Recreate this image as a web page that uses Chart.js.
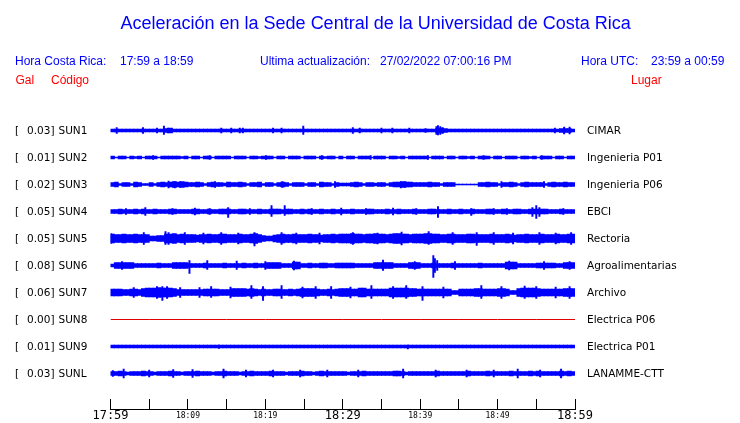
<!DOCTYPE html>
<html><head><meta charset="utf-8">
<script src="https://cdn.jsdelivr.net/npm/chart.js@4/dist/chart.umd.min.js"></script>
<style>
html,body{margin:0;padding:0;width:740px;height:423px;overflow:hidden;background:#fff}
#wrap{position:relative;width:740px;height:423px;overflow:hidden}
#c{position:absolute;left:0;top:0}
.h{position:absolute;white-space:pre;font-family:"Liberation Sans",Arial,sans-serif;font-size:12px;line-height:12px;color:#0000ff}
.r{color:#ff0000}
.title{font-size:18px;line-height:18px}
.l{position:absolute;white-space:pre;font-family:"DejaVu Sans",sans-serif;font-size:10.5px;line-height:10.5px;color:#000}
</style></head>
<body><div id="wrap"><canvas id="c" width="740" height="432"></canvas></div>
<script>
// ---------------- data ----------------
const TITLE = "Aceleración en la Sede Central de la Universidad de Costa Rica";
const HORA_CR = ["Hora Costa Rica:", "17:59 a 18:59"];
const ACTUALIZ = ["Ultima actualización:", "27/02/2022 07:00:16 PM"];
const HORA_UTC = ["Hora UTC:", "23:59 a 00:59"];
const COL_HEADS = ["Gal", "Código", "Lugar"];

const CODES = ["SUN1","SUN2","SUN3","SUN4","SUN5","SUN6","SUN7","SUN8","SUN9","SUNL"];
const PEAKS = ["0.03","0.01","0.02","0.05","0.05","0.08","0.06","0.00","0.01","0.03"];
const PLACES = ["CIMAR","Ingenieria P01","Ingenieria P06","EBCI","Rectoria","Agroalimentarias","Archivo","Electrica P06","Electrica P01","LANAMME-CTT"];

// time axis: minutes after 17:59 (0..60)
const X_TICK_LABELS = ["17:59","18:09","18:19","18:29","18:39","18:49","18:59"];
const SAMPLE_STEP = 0.5; // minutes per envelope sample

// envelope half-amplitudes per 0.5 min (120 samples each)
const SUN1 = [1.5,1.5,1.5,1.5,1.5,1.5,1.5,1.5,1.5,1.5, 1.5,1.5,1.5,1.5,2,2.5,1.5,1.5,1.5,1.5,
  1.5,1.5,1.5,1.5,1.5,1.5,1.5,1.5,1.5,1.5, 1.5,1.5,1.5,1.5,1.5,1.5,1.5,1.5,1.5,1.5,
  1.5,1.5,1.5,1.5,1.5,1.5,1.5,1.5,1.5,1.5, 1.5,1.5,1.5,1.5,1.5,1.5,1.5,1.5,1.5,1.5,
  1.5,1.5,1.5,1.5,1.5,1.5,1.5,1.5,1.5,1.5, 1.5,1.5,1.5,1.5,1.5,1.5,1.5,1.5,1.5,1.5,
  1.5,1.5,1.5,1.5,2,2.5,2,1.5,1.5,1.5, 1.5,1.5,1.5,1.5,1.5,1.5,1.5,1.5,1.5,1.5,
  1.5,1.5,1.5,1.5,1.5,1.5,1.5,1.5,1.5,1.5, 1.5,1.5,1.5,1.5,1.5,1.5,2,2,2,1.5];
const SUN2 = [1.5,0.5,1.5,1.5,0.5,1.5,1,1.5,0.5,1.5, 1.5,1.5,0.5,1.5,1.5,1.5,1.5,1.5,1,1.5,
  0.5,1.5,1.5,0.5,1.5,1.5,0.5,1.5,1.5,1.5, 1.5,0.5,1.5,1.5,1.5,0.5,1.5,1.5,1,1.5,
  1.5,1.5,0.5,1.5,1.5,0.5,1.5,1.5,1.5,0.5, 1.5,1.5,1.5,0.5,1.5,1,1.5,1.5,0.5,1.5,
  0.5,1.5,1.5,0.5,1.5,1.5,1.5,0.5,1.5,1.5, 1.5,0.5,1.5,1.5,1,1.5,0.5,1.5,1.5,1.5,
  1.5,1.5,0.5,1.5,1.5,1.5,0.5,1.5,1.5,0.5, 1.5,1.5,1,1.5,0.5,1.5,1.5,1.5,0.5,1.5,
  1.5,0.5,1.5,1.5,1.5,0.5,1.5,1.5,1,1.5, 0.5,1.5,1.5,1.5,0.5,1.5,1.5,0.5,1.5,1.5];
const SUN3 = [2,2.5,1,2,2,1,2.5,2,1,1, 2,1,2,2.5,2,2.5,3,2.5,3,2.5,
  2,2,2.5,2,1,2,2.5,2,2,1.5, 2.5,2,2,2.5,2,1,2,2,2.5,1,
  2,2,1,2,2.5,2,1,2,2,2, 1,2,2,1,2.5,2,2,1,2,1.5,
  1.5,1.5,2,2.5,2,1,2,2,1.5,2, 2,1,2,2.5,2.5,3,2.5,2.5,2,2,
  2,2,2.5,2,2,1,2,2,2,0.5, 0.5,0.5,0.5,0.5,0.5,2,2,2.5,2,2,
  1,2,2,2.5,2,1,2,2.5,2,2, 2,2,1,2,2.5,2,2,2.5,2,2];
const SUN4 = [2,2,2.5,2,2,2,2.5,2,2.5,2, 2,2.5,2,2,2,2.5,2.5,2,2,2,
  2,2.5,2.5,2,2,2.5,2,2,2.5,2.5, 2.5,2,2,2.5,2.5,2,2,2,2.5,2,
  2,2.5,2.5,2.5,2,2.5,2.5,2,2,2.5, 2,2.5,2,2,2.5,2,2,2.5,2,2,
  2,2,2.5,2,2,2,2.5,2.5,2,2, 2,2.5,2,2,2.5,2,2,2,2.5,2,
  2,2,2.5,2.5,2,2,2,2.5,2,2, 2.5,2,2,2.5,2,2,2,2.5,2.5,2,
  2,2.5,2,2,2.5,2.5,2,2,2.5,2.5, 2.5,2.5,2.5,2,2,2,2.5,2,2,2];
const SUN5 = [4.5,4,4,4.5,4,4,4.5,4,4,4, 2.5,2.5,3,3,4.5,4.5,5,4,4.5,4,
  4,4,3.5,4,4,4.5,4,4,4.5,4.5, 4,4,4,4.5,4,4,4.5,5,4,3,
  2.5,2.5,3.5,4,4.5,4,4,4.5,4,4, 4,4.5,4,4,3.5,4,4,4.5,4,4.5,
  4.5,4.5,5,4.5,4.5,4,4.5,4.5,5,4.5, 4.5,4,4.5,5,5,4.5,4.5,4,4.5,4.5,
  4.5,5,5,4.5,4.5,4,4,4.5,4.5,4, 4,4,4.5,4.5,4,4,4,4,4.5,4,
  4,4,4.5,4,3.5,4,4,4.5,4,4, 4,4.5,4,4,4,4.5,4,4,4.5,4.5];
const SUN6 = [1.5,3,3,3,3,3,2,2,2,2, 2,2,2.5,2,2,2,3,3,3,3,
  2,2,2,2,2.5,2,2,2,2,2.5, 2,2,2,2,2.5,2,2,2.5,2,2,
  3,3,3,3,2,2,2,3.5,3.5,2, 2,2.5,2,2,2.5,2.5,2,2,2.5,2.5,
  2.5,2.5,2.5,2,2,2,2,2,3,3, 3,3,3,2,2,2,2,3,3,3,
  2,2,2,2.5,2,2,2,2,2.5,2, 2,2,2,2,2,2.5,2,2,2,2,
  2,2,3.5,3.5,3.5,2,2,2,2,2, 2.5,2.5,2.5,2.5,2.5,2,2,3,3,3];
const SUN7 = [3.5,3.5,3.5,3,3,3.5,3.5,3,4,4.5, 4.5,4.5,5,4.5,4.5,4.5,4,3,3,3,
  3,3,3,3,3.5,3.5,3.5,3.5,3,3, 3,4,4,4,4,3.5,4,3.5,3,3.5,
  3,3,3.5,3.5,3,3,3.5,3,3.5,4, 4,4,4,3.5,3,3,3.5,3,3.5,4,
  4,4,3.5,3.5,4.5,4.5,3.5,3.5,3.5,3.5, 3.5,3.5,4.5,4.5,4.5,4.5,4.5,4,4,3.5,
  3.5,3.5,3.5,3.5,3.5,3.5,3.5,3.5,2,2, 3.5,3.5,3.5,3.5,4,4,3.5,3.5,3.5,3.5,
  4,4,3.5,2,2,4,4.5,4.5,4.5,4.5, 4,3.5,3.5,3.5,3.5,3.5,3.5,4,4,4];
const SUN8 = [0,0,0,0,0,0,0,0,0,0,0,0,0]; // flat record, one value per 5 min
const SUN9 = [1.5,1.5,1.5,1.5,1.5,1.5,1.5,1.5,1.5,1.5, 1.5,1.5,1.5,1.5,1.5,1.5,1.5,1.5,1.5,1.5,
  1.5,1.5,1.5,1.5,1.5,1.5,1.5,1.5,1.5,1.5, 1.5,1.5,1.5,1.5,1.5,1.5,1.5,1.5,1.5,1.5,
  1.5,1.5,1.5,1.5,1.5,1.5,1.5,1.5,1.5,1.5, 1.5,1.5,1.5,1.5,1.5,1.5,1.5,1.5,1.5,1.5,
  1.5,1.5,1.5,1.5,1.5,1.5,1.5,1.5,1.5,1.5, 1.5,1.5,1.5,1.5,1.5,1.5,1.5,1.5,1.5,1.5,
  1.5,1.5,1.5,1.5,1.5,1.5,1.5,1.5,1.5,1.5, 1.5,1.5,1.5,1.5,1.5,1.5,1.5,1.5,1.5,1.5,
  1.5,1.5,1.5,1.5,1.5,1.5,1.5,1.5,1.5,1.5, 1.5,1.5,1.5,1.5,1.5,1.5,1.5,1.5,1.5,1.5];
const SUNL = [2,2,2.5,2,1.5,2,2,2,2.5,2, 2,1.5,2,2,2,2.5,2,2,1.5,2,
  2,2,2.5,2,2,2,1.5,2,2,2.5, 2,2,2,1.5,2,2,2.5,2,2,2,
  2,2.5,2,2,2,1.5,2,2,2,2.5, 2,2,1.5,2,2.5,2,2,2,2,2,
  2,1.5,2,2,2,2.5,2,2,2,2, 2,2,2,2.5,2.5,2,1.5,2,2,2,
  2,2,2,2,2.5,2,2,2,2,2, 2,2,2.5,2,2,2,2,2.5,2,2,
  2,2,2,2.5,2,2,2,2,2.5,2, 2.5,2,2,2,2,2,2.5,2,2.5,2];

// isolated needles: [minute, up, down]
const SUN1_SPIKES = [[0.8,3,3],[4.2,3,3],[6.0,2.5,2.5],[6.9,4.5,4],[7.4,2.5,2.5],[14.3,2.5,2.5],[15.6,2.5,2.5],[16.7,2.5,2.5],[17.1,2.5,2.5],[21.0,2.5,2.5],[22.1,2.5,2.5],[24.9,4.5,4],[31.3,3,3],[32.2,2.5,2.5],[35.0,2.5,2.5],[36.4,2.5,2.5],[38.6,2.5,2.5],[40.7,2,2],[42.1,4,4],[42.3,5,4.5],[42.6,4,4],[42.9,3,3],[57.4,2.5,2.5],[58.6,3.5,3.5],[59.3,3.5,3.5]];
const SUN2_SPIKES = [[5.5,2,2],[12.8,2,2],[20.1,2,2],[27.3,2,2],[33.6,2,2],[41.0,2,2],[48.2,2,2],[55.7,2,2]];
const SUN3_SPIKES = [[7.5,3.5,3.5],[8.3,3,3.5],[9.0,3,3],[13.5,3,3],[22.2,3,3],[29.0,3,3],[37.5,3,3.5],[38.1,3,3],[50.5,3,3],[56.0,3,3]];
const SUN4_SPIKES = [[2.0,3,3],[4.5,4,4],[8.0,3,3],[10.9,3.5,3.5],[12.8,3,3],[15.2,4,6],[18.0,3,3],[20.8,6,5],[22.5,6,4],[26.0,3,3],[29.8,3.5,3.5],[33.0,3,3],[36.5,3.5,3.5],[39.5,3,3],[42.3,5,6],[46.6,3,4],[49.5,3,3],[51.2,3,3],[54.5,4,5],[55.0,6,7],[55.4,4,5],[58.5,3,3]];
const SUN5_SPIKES = [[0.1,5,5],[4.3,6,6],[7.1,7,6],[7.5,6,6],[9.6,6,6],[12.0,5.5,5.5],[14.3,6,6],[16.5,5.5,5.5],[18.6,6,7.5],[22.1,6,6],[24.0,5.5,5.5],[27.0,5.5,5.5],[31.3,6,6],[34.5,5.5,5.5],[37.6,6.5,6.5],[41.1,7,6],[44.2,6,6],[47.3,6,7],[49.5,6,6],[52.0,5.5,5.5],[55.4,6,6],[57.5,5.5,5.5],[59.5,6,6]];
const SUN6_SPIKES = [[1.5,4,4],[10.2,5,8],[12.5,5,4],[16.3,4.5,4],[20.0,4,4],[23.7,4.5,4.5],[35.2,5.5,5],[39.3,4,4],[41.7,10,12],[41.9,7,7],[42.2,5,5],[44.5,4,4],[51.5,4.5,4.5],[56.0,4,4],[59.3,4,4]];
const SUN7_SPIKES = [[3.0,5,5],[6.0,6,6],[6.7,6,8],[7.3,6,6],[9.0,5,5],[11.5,5,5],[13.0,6,5],[15.5,5.5,5.5],[18.2,7,6],[19.7,6,8],[22.1,7,6],[24.8,5.5,5.5],[26.5,6,6],[28.5,6,6],[31.0,5.5,5.5],[33.7,7,6],[36.5,6,6],[38.2,7,6],[40.3,6,8],[43.0,5.5,5.5],[47.9,7,6],[50.5,6,6],[53.5,6.5,6],[55.0,6,6],[57.5,5.5,5.5],[59.3,6,6]];
const SUN9_SPIKES = [[14.0,1.5,2],[38.4,1.5,2.5]];
const SUNL_SPIKES = [[0.3,3,3],[1.7,4.5,4.5],[5.0,3.5,3.5],[8.1,4,4],[10.6,4,4],[14.6,4.5,4.5],[17.5,3.5,3.5],[21.0,3.5,3.5],[24.5,3.5,3.5],[28.0,3.5,3.5],[32.0,3.5,3.5],[37.8,4.5,4.5],[42.0,3.5,3.5],[46.0,3.5,3.5],[49.5,3.5,3.5],[52.6,4.5,4.5],[55.5,3.5,3.5],[58.2,4.5,4.5]];

// ---------------- text ----------------
const wrap = document.getElementById('wrap');
function addText(cls, txt, left, top, extra) {
  const d = document.createElement('div');
  d.className = cls; d.textContent = txt;
  d.style.left = left + 'px'; d.style.top = top + 'px';
  if (extra) Object.assign(d.style, extra);
  wrap.appendChild(d);
}
addText('h title', TITLE, 120.5, 14.3);
addText('h', HORA_CR[0], 15, 55); addText('h', HORA_CR[1], 120, 55);
addText('h', ACTUALIZ[0], 260, 55); addText('h', ACTUALIZ[1], 380, 55);
addText('h', HORA_UTC[0], 581, 55); addText('h', HORA_UTC[1], 651, 55);
addText('h r', COL_HEADS[0], 15.5, 74.3); addText('h r', COL_HEADS[1], 51, 74.3); addText('h r', COL_HEADS[2], 631, 74.3);
CODES.forEach((code, r) => {
  const top = 125.45 + 27 * r;
  addText('l', '[', 15, top);
  addText('l', PEAKS[r] + ']', 0, top, {left: 'auto', right: (740 - 54.5) + 'px', textAlign: 'right'});
  addText('l', code, 58.5, top);
  addText('l', PLACES[r], 587, top);
});

// ---------------- chart ----------------
const ENVS = [SUN1, SUN2, SUN3, SUN4, SUN5, SUN6, SUN7, SUN8, SUN9, SUNL];
const SPIKES = [SUN1_SPIKES, SUN2_SPIKES, SUN3_SPIKES, SUN4_SPIKES, SUN5_SPIKES, SUN6_SPIKES, SUN7_SPIKES, [], SUN9_SPIKES, SUNL_SPIKES];
const ROW_PX = 27;          // amplitude units per row spacing
const BLUE = '#0000ff';
const datasets = [];
ENVS.forEach((env, r) => {
  if (CODES[r] === 'SUN8') {
    datasets.push({type: 'line', data: env.map((v, i) => ({x: i * 5, y: r + v / ROW_PX})),
      borderColor: 'rgb(225,0,0)', borderWidth: 1, pointRadius: 0, tension: 0});
    return;
  }
  datasets.push({type: 'bar', data: env.map((a, i) => ({x: i * SAMPLE_STEP + SAMPLE_STEP / 2, y: [r - a / ROW_PX, r + a / ROW_PX]})),
    backgroundColor: BLUE, borderWidth: 0, barThickness: 4.2, grouped: false});
  datasets.push({type: 'bar', data: SPIKES[r].map(s => ({x: s[0], y: [r - s[1] / ROW_PX, r + s[2] / ROW_PX]})),
    backgroundColor: BLUE, borderWidth: 0, barThickness: 1.3, grouped: false});
});

const BIG = {family: 'DejaVu Sans Mono', size: 12, lineHeight: '14.4px'};
const SMALL = {family: 'DejaVu Sans Mono', size: 8, lineHeight: '14.4px'};

new Chart(document.getElementById('c'), {
  type: 'bar',
  data: {datasets},
  options: {
    responsive: false, animation: false, devicePixelRatio: 1,
    layout: {padding: {left: 110.5, right: 165, top: 117, bottom: 0}},
    plugins: {legend: {display: false}, tooltip: {enabled: false}},
    scales: {
      x: {
        type: 'linear', min: 0, max: 60, offset: false,
        grid: {display: true, offset: false, drawOnChartArea: false, drawTicks: true, tickLength: -10, color: '#000', lineWidth: 1},
        border: {display: true, color: '#000', width: 1},
        ticks: {
          stepSize: 5, autoSkip: false, maxRotation: 0, minRotation: 0, padding: 9.3, color: '#000',
          font: (ctx) => (ctx.tick && ctx.tick.value % 30 === 0) ? BIG : SMALL,
          callback: (v) => (v % 10 === 0) ? X_TICK_LABELS[v / 10] : ''
        }
      },
      y: {type: 'linear', display: false, min: -0.5, max: -0.5 + 292 / ROW_PX, reverse: true}
    }
  }
});
</script></body></html>
